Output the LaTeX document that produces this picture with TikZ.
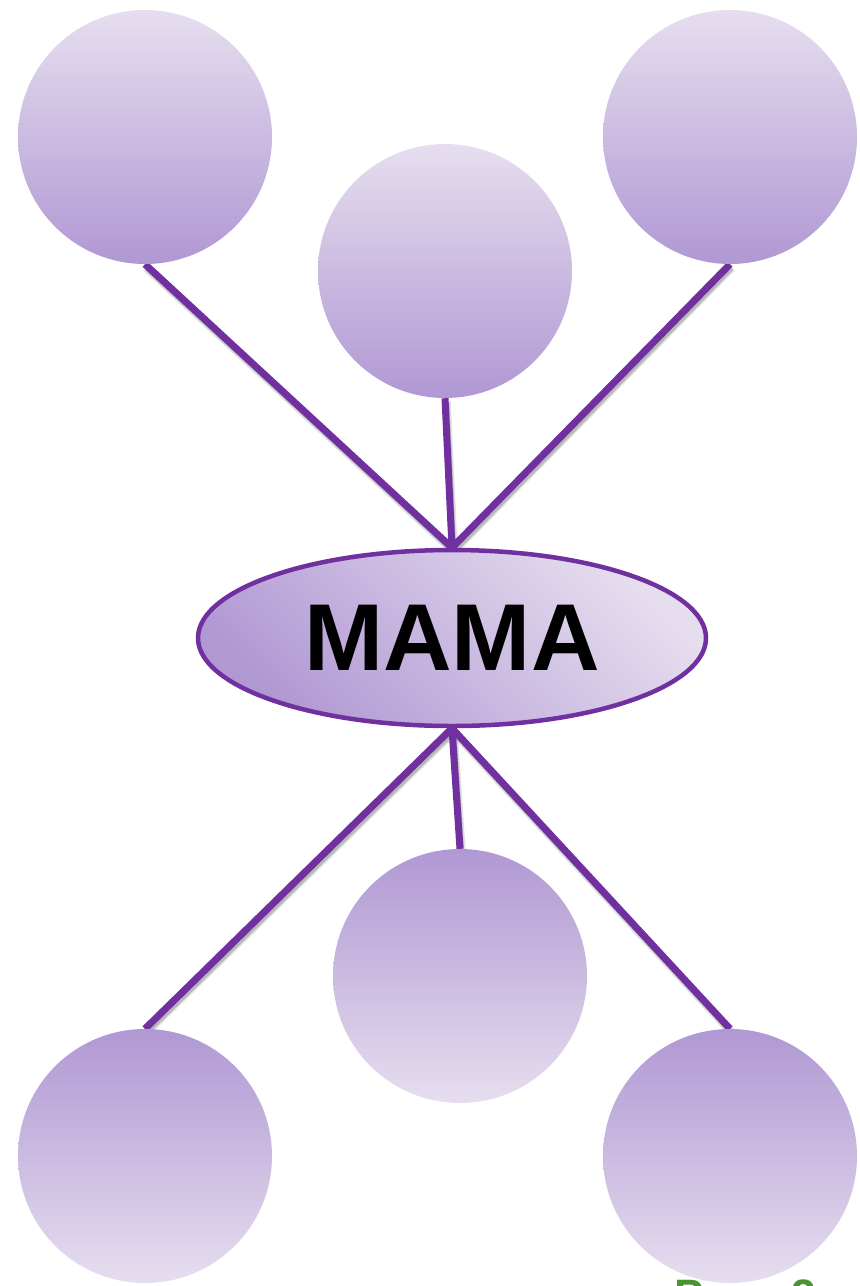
\documentclass[tikz,border=0pt]{standalone}
\usepackage{fontspec}
\setmainfont{Liberation Sans}
\usetikzlibrary{shapes.geometric,backgrounds}
\definecolor{lightlav}{HTML}{E6DEEF}
\definecolor{darklav}{HTML}{B098D3}
\definecolor{linepurple}{HTML}{7030A0}
\definecolor{pagegreen}{HTML}{4A9433}
\tikzset{
  bubbledown/.style={circle, minimum size=254pt, inner sep=0pt, top color=lightlav, bottom color=darklav},
  bubbleup/.style={circle, minimum size=254pt, inner sep=0pt, top color=darklav, bottom color=lightlav},
  link/.style={draw=linepurple, line width=7pt},
  linkshadow/.style={draw=black, opacity=0.12, line width=8.5pt},
  linkshadowcore/.style={draw=black, opacity=0.18, line width=5.5pt},
  centre/.style={ellipse, minimum width=508pt, minimum height=176pt, inner sep=0pt,
    draw=linepurple, line width=4.5pt, top color=darklav, bottom color=lightlav, shading angle=135,
    font=\fontsize{95}{95}\selectfont\bfseries}
}
\begin{document}
\begin{tikzpicture}[x=1pt,y=-1pt]
\useasboundingbox (0,0) rectangle (860,1286);
\clip (0,0) rectangle (860,1286);
% nodes
\node[bubbledown] (tl) at (145,137) {};
\node[bubbledown] (tr) at (730,137) {};
\node[bubbledown] (tm) at (445,271) {};
\node[bubbleup] (bm) at (460,976) {};
\node[bubbleup] (bl) at (145,1156) {};
\node[bubbleup] (br) at (730,1156) {};
\node[centre] (mama) at (452,638) {MAMA};
% connectors (behind nodes)
\begin{scope}[on background layer]
\begin{scope}[transform canvas={shift={(1.5pt,-3.5pt)}}]
\foreach \s in {linkshadow,linkshadowcore}{
\draw[\s] (tl.south) -- (mama.north);
\draw[\s] (tm.south) -- (mama.north);
\draw[\s] (tr.south) -- (mama.north);
\draw[\s] (mama.south) -- (bl.north);
\draw[\s] (mama.south) -- (bm.north);
\draw[\s] (mama.south) -- (br.north);
}
\end{scope}
\draw[link] (tl.south) -- (mama.north);
\draw[link] (tm.south) -- (mama.north);
\draw[link] (tr.south) -- (mama.north);
\draw[link] (mama.south) -- (bl.north);
\draw[link] (mama.south) -- (bm.north);
\draw[link] (mama.south) -- (br.north);
\end{scope}
\node[anchor=base west, text=pagegreen, font=\fontsize{44}{44}\selectfont\bfseries, inner sep=0pt] (pg) at (674,1310) {Page 2};
\end{tikzpicture}
\end{document}
